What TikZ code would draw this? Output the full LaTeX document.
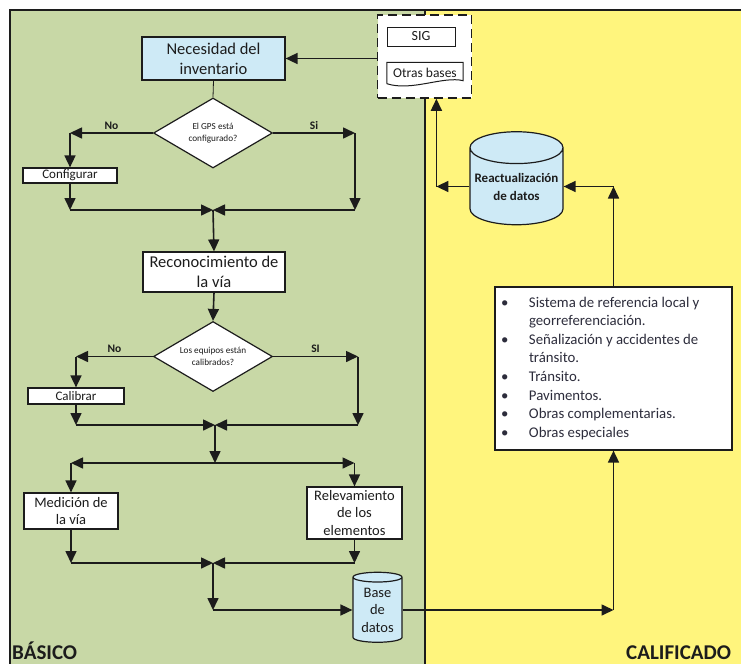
\documentclass[tikz,border=0pt]{standalone}
\usepackage{fontspec}
\setmainfont{Carlito}
\usetikzlibrary{arrows.meta,shapes.geometric,calc}

\definecolor{zonegreen}{RGB}{200,216,166}
\definecolor{zoneyellow}{RGB}{255,245,125}
\definecolor{dbblue}{RGB}{206,234,246}
\definecolor{ink}{RGB}{28,28,28}
\definecolor{listink}{RGB}{45,45,60}

\newcommand\fs[2]{\fontsize{#1}{#2}\selectfont}

\begin{document}
\begin{tikzpicture}[x=1pt,y=-1pt,
  every node/.style={text=ink},
  conn/.style={draw=ink, line width=1.6pt, -{Triangle[length=12pt,width=11pt]}},
  proc/.style={draw=ink, line width=1.2pt, fill=white, align=center, inner sep=1pt},
  keybox/.style={proc, fill=dbblue},
  decision/.style={diamond, aspect=1.7, draw=ink, line width=1.2pt, fill=white,
    minimum width=119pt, minimum height=70pt, inner sep=0pt, align=center,
    font=\fs{9.2}{12.5}},
  database/.style={cylinder, shape border rotate=90, draw=ink, line width=1.2pt,
    fill=dbblue, align=center, inner sep=0pt},
  branch/.style={font=\fs{11.5}{13}\bfseries, above, inner sep=3pt},
  zone/.style={font=\fs{21}{24}\bfseries, anchor=base west, inner sep=0pt},
]
\useasboundingbox (0,0) rectangle (741,664);

% zone backgrounds and frame
\fill[white] (0,0) rectangle (741,664);
\fill[zonegreen] (10,10) rectangle (425,664);
\fill[zoneyellow] (425,10) rectangle (741,664);
\draw[ink, line width=1.5pt] (741,10) -- (10,10) -- (10,664);
\draw[ink, line width=1.5pt] (425,10) -- (425,664);

% external sources
\node[draw=ink, dashed, dash pattern=on 9pt off 5pt, line width=1.5pt, fill=white,
      minimum width=94pt, minimum height=83pt] (src) at (424.5,56.5) {};
\node[draw=ink, line width=1pt, fill=white, minimum width=68pt, minimum height=19pt,
      inner sep=0pt, font=\fs{14}{16}] (sig) at (421,36.5) {SIG};
\node[minimum width=76pt, minimum height=21pt, inner sep=0pt, font=\fs{13.5}{16}]
      (otras) at (425,73) {Otras bases};
\draw[ink, line width=1pt] (otras.south west) -- (otras.north west) -- (otras.north east)
  -- ($(otras.south east)+(0,-3)$)
  .. controls ($(otras.south east)+(-20,-8)$) and ($(otras.south west)+(25,8)$)
  .. (otras.south west);

% main flow
\node[keybox, minimum width=143pt, minimum height=43pt, font=\fs{16.5}{20}]
      (nec) at (213.5,58.5) {Necesidad del\\inventario};
\node[decision] (d1) at (213,133) {El GPS está\\configurado?};
\node[proc, minimum width=94pt, minimum height=15pt, font=\fs{13}{14}]
      (cfg) at (70,175.5) {Configurar};
\coordinate (j1) at (213,210);
\coordinate (c1r) at (355,133);

\node[proc, minimum width=142pt, minimum height=40pt, font=\fs{16.5}{20}]
      (rec) at (214,272) {Reconocimiento de\\la vía};
\node[decision] (d2) at (213,356.5) {Los equipos están\\calibrados?};
\node[proc, minimum width=96pt, minimum height=16pt, font=\fs{13}{14}]
      (cal) at (76,396) {Calibrar};
\coordinate (j2) at (215,425);
\coordinate (c2r) at (358,356.5);
\coordinate (j3) at (215,463);

\node[proc, minimum width=94pt, minimum height=36pt, font=\fs{14.5}{17.5}]
      (med) at (71,511) {Medición de\\la vía};
\node[proc, minimum width=95pt, minimum height=52pt, font=\fs{14.5}{17.5}]
      (rel) at (354.5,513) {Relevamiento\\de los\\elementos};
\coordinate (j4) at (213,563);
\coordinate (j5) at (213,610);

\node[database, minimum width=49pt, minimum height=70pt, aspect=0.3, font=\fs{14.5}{17.5}]
      (base) at (377.5,610) {Base\\de\\datos};

% qualified zone
\node[draw=ink, line width=1.2pt, fill=white, minimum width=237pt, minimum height=163pt,
      text width=225pt, inner xsep=6pt, align=left]
      (bul) at (613.5,368.5)
      {\color{listink}\fs{14.8}{18.6}%
       \begin{tabular}{@{}p{28pt}@{}l@{}}
       \textbullet & Sistema de referencia local y\\
        & georreferenciación.\\
       \textbullet & Señalización y accidentes de\\
        & tránsito.\\
       \textbullet & Tránsito.\\
       \textbullet & Pavimentos.\\
       \textbullet & Obras complementarias.\\
       \textbullet & Obras especiales
       \end{tabular}};

\node[database, minimum width=93pt, minimum height=93pt, aspect=0.38,
      font=\fs{13}{18}\bfseries] (reac) at (516.5,186.5) {Reactualización\\de datos};
\coordinate (c6) at (bul.south |- base.east);
\coordinate (c7) at (bul.north |- reac.east);
\coordinate (c8) at ($(reac.west)+(-33,0)$);

% zone titles
\node[zone] (basico) at (12,659) {BÁSICO};
\node[zone] (calif) at (626,659) {CALIFICADO};

% connectors
\draw[conn] (src.west |- nec.east) -- (nec.east);
\draw[ink, line width=0.8pt] (nec.south) -- (d1.north);

\draw[conn] (d1.west) -- node[branch]{No} (d1.west -| cfg.north);
\draw[conn] (d1.west -| cfg.north) -- (cfg.north);
\draw[conn] (d1.east) -- node[branch]{Si} (c1r);
\draw[conn] (c1r) -- (c1r |- j1);
\draw[conn] (cfg.south) -- (cfg.south |- j1);
\draw[conn] (cfg.south |- j1) -- (j1);
\draw[conn] (c1r |- j1) -- (j1);
\draw[conn] (j1) -- (rec.north);

\draw[conn] (rec.south) -- (d2.north);
\draw[conn] (d2.west) -- node[branch]{No} (d2.west -| cal.north);
\draw[conn] (d2.west -| cal.north) -- (cal.north);
\draw[conn] (d2.east) -- node[branch]{SI} (c2r);
\draw[conn] (c2r) -- (c2r |- j2);
\draw[conn] (cal.south) -- (cal.south |- j2);
\draw[conn] (cal.south |- j2) -- (j2);
\draw[conn] (c2r |- j2) -- (j2);

\draw[conn] (j2) -- (j3);
\draw[conn] (j3) -- (j3 -| med.north);
\draw[conn] (j3) -- (j3 -| rel.north);
\draw[conn] (j3 -| med.north) -- (med.north);
\draw[conn] (j3 -| rel.north) -- (rel.north);

\draw[conn] (med.south) -- (med.south |- j4);
\draw[conn] (med.south |- j4) -- (j4);
\draw[conn] (rel.south) -- (rel.south |- j4);
\draw[conn] (rel.south |- j4) -- (j4);
\draw[conn] (j4) -- (j5);
\draw[conn] (j5) -- (base.west);

\draw[conn] (base.east) -- (c6);
\draw[conn] (c6) -- (bul.south);
\draw[conn] (bul.north) -- (c7);
\draw[conn] (c7) -- (reac.east);
\draw[conn] (reac.west) -- (c8);
\draw[conn] (c8) -- (c8 |- src.south);
\end{tikzpicture}
\end{document}
